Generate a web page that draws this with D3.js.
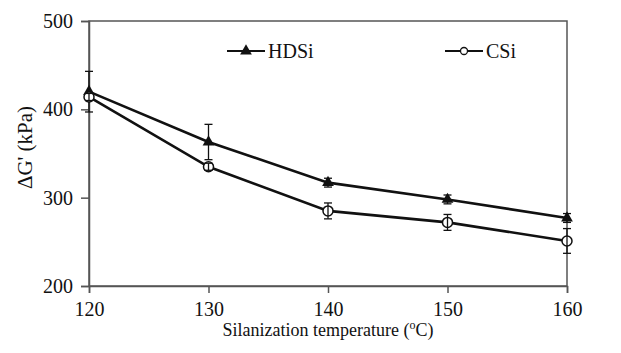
<!DOCTYPE html>
<html>
<head>
<meta charset="utf-8">
<script src="https://cdn.jsdelivr.net/npm/d3@7"></script>
</head>
<body style="margin:0">
<script>
const width = 621;
const height = 353;
const serif = '"Times New Roman", "Liberation Serif", Tinos, monospace';

// silanization temperature (°C)
const temps = [120, 130, 140, 150, 160];
// ΔG' (kPa) and error bars
const hdsi = [420, 363, 317, 298, 277];
const hdsiErr = [23, 20, 5, 5, 5];
const csi = [414, 335, 285, 272, 251];
const csiErr = [4, 4, 9, 9, 14];

const yTicks = [200, 300, 400, 500];
const xTicks = [120, 130, 140, 150, 160];

const margin = {top: 21, right: 54, bottom: 67, left: 89};

const svg = d3.select("body")
  .append("svg")
  .attr("width", width)
  .attr("height", height)
  .style("display", "block")

const x = d3.scaleLinear()
  .domain([120, 160])
  .range([margin.left, width - margin.right])

const y = d3.scaleLinear()
  .domain([200, 500])
  .range([height - margin.bottom, margin.top])

// frame
svg.append("rect")
  .attr("x", x(120))
  .attr("y", y(500))
  .attr("width", x(160) - x(120))
  .attr("height", y(200) - y(500))
  .attr("fill", "none")
  .attr("stroke", "#555")
  .attr("stroke-width", 1.5)

const xAxis = svg.append("g")
  .attr("transform", `translate(0, ${y(200)})`)
  .call(d3.axisBottom(x).tickValues(xTicks).tickSize(7).tickPadding(9).tickFormat(d3.format("d")))
const yAxis = svg.append("g")
  .attr("transform", `translate(${x(120)}, 0)`)
  .call(d3.axisLeft(y).tickValues(yTicks).tickSize(8).tickPadding(8).tickFormat(d3.format("d")))

for (const ax of [xAxis, yAxis]) {
  ax.attr("font-family", null).attr("font-size", null)
  ax.select(".domain").attr("stroke", "#555").attr("stroke-width", 1.5)
  ax.selectAll(".tick line").attr("stroke", "#555").attr("stroke-width", 1.5)
  ax.selectAll(".tick text")
    .attr("fill", "#111")
    .attr("font-family", serif)
    .attr("font-size", 20)
}

// axis titles
svg.append("text")
  .attr("x", (x(120) + x(160)) / 2)
  .attr("y", 336)
  .attr("text-anchor", "middle")
  .attr("font-family", serif)
  .attr("font-size", 18)
  .attr("fill", "#111")
  .html('Silanization temperature (<tspan dy="-7" font-size="12">o</tspan><tspan dy="7">C)</tspan>')

svg.append("text")
  .attr("transform", `translate(32, ${(y(200) + y(500)) / 2 - 6}) rotate(-90)`)
  .attr("text-anchor", "middle")
  .attr("font-family", serif)
  .attr("font-size", 21)
  .attr("fill", "#111")
  .text("ΔG' (kPa)")

const line = d3.line()
  .x((d, i) => x(temps[i]))
  .y(d => y(d))

const series = [
  {name: "HDSi", values: hdsi, err: hdsiErr, marker: "triangle"},
  {name: "CSi", values: csi, err: csiErr, marker: "circle"}
]

const cap = 4;

series.forEach(s => {
  const g = svg.append("g")

  g.append("path")
    .datum(s.values)
    .attr("d", line)
    .attr("fill", "none")
    .attr("stroke", "#111")
    .attr("stroke-width", 2.6)

  if (s.marker === "triangle") {
    g.selectAll(".mk")
      .data(s.values)
      .join("path")
        .attr("transform", (d, i) => `translate(${x(temps[i])}, ${y(d)})`)
        .attr("d", d3.symbol(d3.symbolTriangle, 60))
        .attr("fill", "#111")
  } else {
    g.selectAll(".mk")
      .data(s.values)
      .join("circle")
        .attr("cx", (d, i) => x(temps[i]))
        .attr("cy", d => y(d))
        .attr("r", 5)
        .attr("fill", "#fff")
        .attr("stroke", "#111")
        .attr("stroke-width", 1.5)
  }

  // error bars
  s.values.forEach((v, i) => {
    const cx = x(temps[i])
    g.append("line")
      .attr("x1", cx).attr("x2", cx)
      .attr("y1", y(v - s.err[i])).attr("y2", y(v + s.err[i]))
      .attr("stroke", "#111").attr("stroke-width", 1.3)
    for (const e of [v - s.err[i], v + s.err[i]]) {
      g.append("line")
        .attr("x1", cx - cap).attr("x2", cx + cap)
        .attr("y1", y(e)).attr("y2", y(e))
        .attr("stroke", "#111").attr("stroke-width", 1.3)
    }
  })
})

// legend
const legend = [
  {name: "HDSi", x: 227, marker: "triangle"},
  {name: "CSi", x: 445, marker: "circle"}
]
const ly = 51;
legend.forEach(l => {
  svg.append("line")
    .attr("x1", l.x).attr("x2", l.x + 38)
    .attr("y1", ly).attr("y2", ly)
    .attr("stroke", "#111").attr("stroke-width", 2.2)
  if (l.marker === "triangle") {
    svg.append("path")
      .attr("transform", `translate(${l.x + 19}, ${ly})`)
      .attr("d", d3.symbol(d3.symbolTriangle, 60))
      .attr("fill", "#111")
  } else {
    svg.append("circle")
      .attr("cx", l.x + 19).attr("cy", ly).attr("r", 3.5)
      .attr("fill", "#fff").attr("stroke", "#111").attr("stroke-width", 1.3)
  }
  svg.append("text")
    .attr("x", l.x + 41)
    .attr("y", ly + 7)
    .attr("font-family", serif)
    .attr("font-size", 20)
    .attr("fill", "#111")
    .text(l.name)
})
</script>
</body>
</html>
